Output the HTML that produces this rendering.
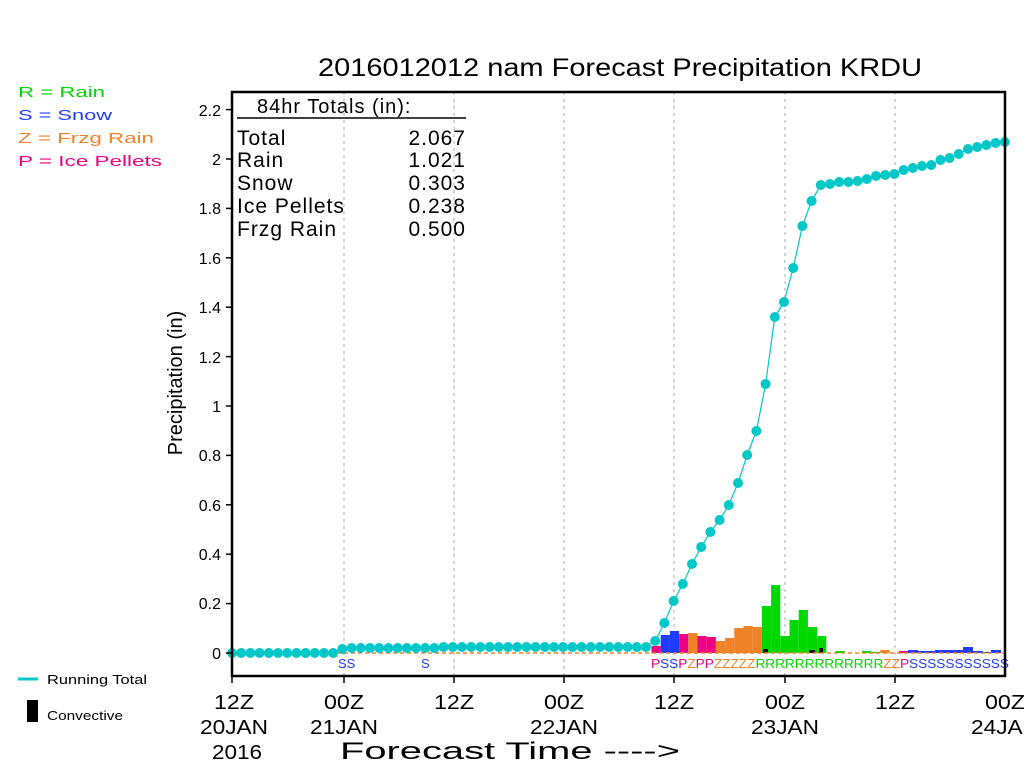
<!DOCTYPE html>
<html><head><meta charset="utf-8"><style>
body{margin:0;background:#fff}
svg{display:block;font-family:"Liberation Sans",sans-serif}
</style></head><body>
<svg width="1024" height="768" viewBox="0 0 1024 768">
<rect width="1024" height="768" fill="#fff"/>
<text x="318" y="76" font-size="25" textLength="604" lengthAdjust="spacingAndGlyphs">2016012012 nam Forecast Precipitation KRDU</text>
<g font-size="15">
<text x="18" y="97" fill="#00d800" textLength="87" lengthAdjust="spacingAndGlyphs">R = Rain</text>
<text x="18" y="120" fill="#1e3cff" textLength="94" lengthAdjust="spacingAndGlyphs">S = Snow</text>
<text x="18" y="143" fill="#f08228" textLength="136" lengthAdjust="spacingAndGlyphs">Z = Frzg Rain</text>
<text x="18" y="166" fill="#f00082" textLength="144" lengthAdjust="spacingAndGlyphs">P = Ice Pellets</text>
</g>
<line x1="18" y1="679" x2="38" y2="679" stroke="#00c8c8" stroke-width="3"/>
<text x="47" y="684" font-size="13" textLength="100" lengthAdjust="spacingAndGlyphs">Running Total</text>
<rect x="27" y="700" width="11" height="22" fill="#000"/>
<text x="47" y="720" font-size="13" textLength="76" lengthAdjust="spacingAndGlyphs">Convective</text>
<g stroke="#aaa" stroke-dasharray="3,4" stroke-width="1">
<line x1="344" y1="92" x2="344" y2="676"/><line x1="454" y1="92" x2="454" y2="676"/>
<line x1="564" y1="92" x2="564" y2="676"/><line x1="674" y1="92" x2="674" y2="676"/>
<line x1="785" y1="92" x2="785" y2="676"/><line x1="895" y1="92" x2="895" y2="676"/>
</g>
<g>
<rect x="651.5" y="646" width="9.2" height="7" fill="#f00082"/>
<rect x="660.7" y="635" width="9.2" height="18" fill="#1e3cff"/>
<rect x="669.9" y="631" width="9.2" height="22" fill="#1e3cff"/>
<rect x="679.1" y="634" width="9.2" height="19" fill="#f00082"/>
<rect x="688.3" y="633" width="9.2" height="20" fill="#f08228"/>
<rect x="697.5" y="636" width="9.2" height="17" fill="#f00082"/>
<rect x="706.7" y="637" width="9.2" height="16" fill="#f00082"/>
<rect x="715.9" y="641" width="9.2" height="12" fill="#f08228"/>
<rect x="725.1" y="638" width="9.2" height="15" fill="#f08228"/>
<rect x="734.3" y="628" width="9.2" height="25" fill="#f08228"/>
<rect x="743.5" y="626" width="9.2" height="27" fill="#f08228"/>
<rect x="752.7" y="627" width="9.2" height="26" fill="#f08228"/>
<rect x="761.9" y="606" width="9.2" height="47" fill="#00d800"/>
<rect x="771.1" y="585" width="9.2" height="68" fill="#00d800"/>
<rect x="780.3" y="636" width="9.2" height="17" fill="#00d800"/>
<rect x="789.5" y="620" width="9.2" height="33" fill="#00d800"/>
<rect x="798.7" y="610" width="9.2" height="43" fill="#00d800"/>
<rect x="807.9" y="627" width="9.2" height="26" fill="#00d800"/>
<rect x="817.1" y="636" width="9.2" height="17" fill="#00d800"/>
<rect x="835.5" y="651" width="9.2" height="2" fill="#00d800"/>
<rect x="862" y="651" width="9.2" height="2" fill="#00d800"/>
<rect x="871.2" y="652" width="9.2" height="1" fill="#00d800"/>
<rect x="880.4" y="650" width="9.2" height="3" fill="#f08228"/>
<rect x="899" y="651" width="9.2" height="2" fill="#f00082"/>
<rect x="908" y="650" width="10" height="3" fill="#1e3cff"/>
<rect x="918" y="651" width="17" height="2" fill="#1e3cff"/>
<rect x="935" y="650" width="28" height="3" fill="#1e3cff"/>
<rect x="963" y="647" width="10" height="6" fill="#1e3cff"/>
<rect x="973" y="651" width="10" height="2" fill="#1e3cff"/>
<rect x="983" y="652" width="8" height="1" fill="#1e3cff"/>
<rect x="991" y="650" width="10" height="3" fill="#1e3cff"/>
<rect x="763" y="649" width="5" height="4" fill="#000"/>
<rect x="809" y="650" width="6" height="3" fill="#000"/>
<rect x="819" y="648" width="4" height="5" fill="#000"/>
</g>
<line x1="232" y1="653" x2="1005" y2="653" stroke="#f08228" stroke-width="1.5" stroke-dasharray="4,3"/>
<g fill="#00c8c8" stroke="none">
<polyline fill="none" stroke="#00c8c8" stroke-width="1.2" points="232,653 241.2,653 250.4,653 259.6,653 268.8,653 278,653 287.2,653 296.4,653 305.6,653 314.8,653 324,653 333.2,653 342.4,649 351.6,648 360.8,648 370,648 379.2,648 388.4,648 397.6,648 406.8,648 416,648 425.2,648 434.4,648 443.6,647 452.8,647 462,647 471.2,647 480.4,647 489.6,647 498.8,647 508,647 517.2,647 526.4,647 535.6,647 544.8,647 554,647 563.2,647 572.4,647 581.6,647 590.8,647 600,647 609.2,647 618.4,647 627.6,647 636.8,647 646,647 655.2,641 664.4,623 673.6,601 682.8,584 692,564 701.2,547 710.4,532 719.6,520 728.8,505 738,483 747.2,455 756.4,431 765.6,384 774.8,317 784,302 793.2,268 802.4,226 811.6,201 820.8,185 830,184 839.2,182 848.4,182 857.6,181 866.8,179 876,176 885.2,175 894.4,174 903.6,170 912.8,168 922,166 931.2,165 940.4,160 949.6,158 958.8,154 968,149 977.2,147 986.4,145 995.6,143 1004.8,142"/>
<circle cx="232" cy="653" r="5"/><circle cx="241.2" cy="653" r="5"/><circle cx="250.4" cy="653" r="5"/><circle cx="259.6" cy="653" r="5"/><circle cx="268.8" cy="653" r="5"/><circle cx="278" cy="653" r="5"/><circle cx="287.2" cy="653" r="5"/><circle cx="296.4" cy="653" r="5"/><circle cx="305.6" cy="653" r="5"/><circle cx="314.8" cy="653" r="5"/><circle cx="324" cy="653" r="5"/><circle cx="333.2" cy="653" r="5"/><circle cx="342.4" cy="649" r="5"/><circle cx="351.6" cy="648" r="5"/><circle cx="360.8" cy="648" r="5"/><circle cx="370" cy="648" r="5"/><circle cx="379.2" cy="648" r="5"/><circle cx="388.4" cy="648" r="5"/><circle cx="397.6" cy="648" r="5"/><circle cx="406.8" cy="648" r="5"/><circle cx="416" cy="648" r="5"/><circle cx="425.2" cy="648" r="5"/><circle cx="434.4" cy="648" r="5"/><circle cx="443.6" cy="647" r="5"/><circle cx="452.8" cy="647" r="5"/><circle cx="462" cy="647" r="5"/><circle cx="471.2" cy="647" r="5"/><circle cx="480.4" cy="647" r="5"/><circle cx="489.6" cy="647" r="5"/><circle cx="498.8" cy="647" r="5"/><circle cx="508" cy="647" r="5"/><circle cx="517.2" cy="647" r="5"/><circle cx="526.4" cy="647" r="5"/><circle cx="535.6" cy="647" r="5"/><circle cx="544.8" cy="647" r="5"/><circle cx="554" cy="647" r="5"/><circle cx="563.2" cy="647" r="5"/><circle cx="572.4" cy="647" r="5"/><circle cx="581.6" cy="647" r="5"/><circle cx="590.8" cy="647" r="5"/><circle cx="600" cy="647" r="5"/><circle cx="609.2" cy="647" r="5"/><circle cx="618.4" cy="647" r="5"/><circle cx="627.6" cy="647" r="5"/><circle cx="636.8" cy="647" r="5"/><circle cx="646" cy="647" r="5"/><circle cx="655.2" cy="641" r="5"/><circle cx="664.4" cy="623" r="5"/><circle cx="673.6" cy="601" r="5"/><circle cx="682.8" cy="584" r="5"/><circle cx="692" cy="564" r="5"/><circle cx="701.2" cy="547" r="5"/><circle cx="710.4" cy="532" r="5"/><circle cx="719.6" cy="520" r="5"/><circle cx="728.8" cy="505" r="5"/><circle cx="738" cy="483" r="5"/><circle cx="747.2" cy="455" r="5"/><circle cx="756.4" cy="431" r="5"/><circle cx="765.6" cy="384" r="5"/><circle cx="774.8" cy="317" r="5"/><circle cx="784" cy="302" r="5"/><circle cx="793.2" cy="268" r="5"/><circle cx="802.4" cy="226" r="5"/><circle cx="811.6" cy="201" r="5"/><circle cx="820.8" cy="185" r="5"/><circle cx="830" cy="184" r="5"/><circle cx="839.2" cy="182" r="5"/><circle cx="848.4" cy="182" r="5"/><circle cx="857.6" cy="181" r="5"/><circle cx="866.8" cy="179" r="5"/><circle cx="876" cy="176" r="5"/><circle cx="885.2" cy="175" r="5"/><circle cx="894.4" cy="174" r="5"/><circle cx="903.6" cy="170" r="5"/><circle cx="912.8" cy="168" r="5"/><circle cx="922" cy="166" r="5"/><circle cx="931.2" cy="165" r="5"/><circle cx="940.4" cy="160" r="5"/><circle cx="949.6" cy="158" r="5"/><circle cx="958.8" cy="154" r="5"/><circle cx="968" cy="149" r="5"/><circle cx="977.2" cy="147" r="5"/><circle cx="986.4" cy="145" r="5"/><circle cx="995.6" cy="143" r="5"/><circle cx="1004.8" cy="142" r="5"/>
</g>
<g font-size="13">
<text x="338" y="668" fill="#1e3cff">SS</text>
<text x="421" y="668" fill="#1e3cff">S</text>
<text x="651" y="668" textLength="358" lengthAdjust="spacingAndGlyphs"><tspan fill="#f00082">P</tspan><tspan fill="#1e3cff">SS</tspan><tspan fill="#f00082">P</tspan><tspan fill="#f08228">Z</tspan><tspan fill="#f00082">PP</tspan><tspan fill="#f08228">ZZZZZ</tspan><tspan fill="#00d800">RRRRRRRRRRRRR</tspan><tspan fill="#f08228">ZZ</tspan><tspan fill="#f00082">P</tspan><tspan fill="#1e3cff">SSSSSSSSSSS</tspan></text>
</g>
<rect x="232" y="92" width="773" height="584" fill="none" stroke="#000" stroke-width="2.5"/>
<g stroke="#000" stroke-width="1.5">
<line x1="226" y1="653" x2="232" y2="653"/><line x1="226" y1="603.6" x2="232" y2="603.6"/><line x1="226" y1="554.2" x2="232" y2="554.2"/><line x1="226" y1="504.8" x2="232" y2="504.8"/><line x1="226" y1="455.4" x2="232" y2="455.4"/><line x1="226" y1="406" x2="232" y2="406"/><line x1="226" y1="356.6" x2="232" y2="356.6"/><line x1="226" y1="307.2" x2="232" y2="307.2"/><line x1="226" y1="257.8" x2="232" y2="257.8"/><line x1="226" y1="208.4" x2="232" y2="208.4"/><line x1="226" y1="159" x2="232" y2="159"/><line x1="226" y1="109.6" x2="232" y2="109.6"/>
<line x1="232" y1="676" x2="232" y2="683"/><line x1="344" y1="676" x2="344" y2="683"/><line x1="454" y1="676" x2="454" y2="683"/><line x1="564" y1="676" x2="564" y2="683"/><line x1="674" y1="676" x2="674" y2="683"/><line x1="785" y1="676" x2="785" y2="683"/><line x1="895" y1="676" x2="895" y2="683"/>
</g>
<g font-size="16" text-anchor="end">
<text x="221" y="659">0</text><text x="221" y="609">0.2</text><text x="221" y="560">0.4</text><text x="221" y="511">0.6</text><text x="221" y="461">0.8</text><text x="221" y="412">1</text><text x="221" y="363">1.2</text><text x="221" y="313">1.4</text><text x="221" y="264">1.6</text><text x="221" y="214">1.8</text><text x="221" y="165">2</text><text x="221" y="116">2.2</text>
</g>
<text transform="translate(182,383) rotate(-90)" font-size="20" text-anchor="middle">Precipitation (in)</text>
<g font-size="20" text-anchor="middle" lengthAdjust="spacingAndGlyphs">
<text x="234" y="709" textLength="40" lengthAdjust="spacingAndGlyphs">12Z</text><text x="234" y="734" textLength="68" lengthAdjust="spacingAndGlyphs">20JAN</text><text x="237" y="759" textLength="50" lengthAdjust="spacingAndGlyphs">2016</text>
<text x="344" y="709" textLength="40" lengthAdjust="spacingAndGlyphs">00Z</text><text x="344" y="734" textLength="68" lengthAdjust="spacingAndGlyphs">21JAN</text>
<text x="454" y="709" textLength="40" lengthAdjust="spacingAndGlyphs">12Z</text>
<text x="564" y="709" textLength="40" lengthAdjust="spacingAndGlyphs">00Z</text><text x="564" y="734" textLength="68" lengthAdjust="spacingAndGlyphs">22JAN</text>
<text x="674" y="709" textLength="40" lengthAdjust="spacingAndGlyphs">12Z</text>
<text x="785" y="709" textLength="40" lengthAdjust="spacingAndGlyphs">00Z</text><text x="785" y="734" textLength="68" lengthAdjust="spacingAndGlyphs">23JAN</text>
<text x="895" y="709" textLength="40" lengthAdjust="spacingAndGlyphs">12Z</text>
<text x="1005" y="709" textLength="40" lengthAdjust="spacingAndGlyphs">00Z</text><text x="1005" y="734" textLength="68" lengthAdjust="spacingAndGlyphs">24JAN</text>
</g>
<text x="340" y="759" font-size="24" textLength="340" lengthAdjust="spacingAndGlyphs">Forecast Time ----&gt;</text>
<text x="257" y="113" font-size="20" letter-spacing="1">84hr Totals (in):</text>
<line x1="237" y1="118" x2="466" y2="118" stroke="#000" stroke-width="1.5"/>
<g font-size="21" letter-spacing="1">
<text x="237" y="145">Total</text><text x="237" y="167">Rain</text><text x="237" y="190">Snow</text><text x="237" y="213">Ice Pellets</text><text x="237" y="236">Frzg Rain</text>
</g>
<g font-size="21" letter-spacing="1" text-anchor="end">
<text x="466" y="145">2.067</text><text x="466" y="167">1.021</text><text x="466" y="190">0.303</text><text x="466" y="213">0.238</text><text x="466" y="236">0.500</text>
</g>
</svg>
</body></html>
